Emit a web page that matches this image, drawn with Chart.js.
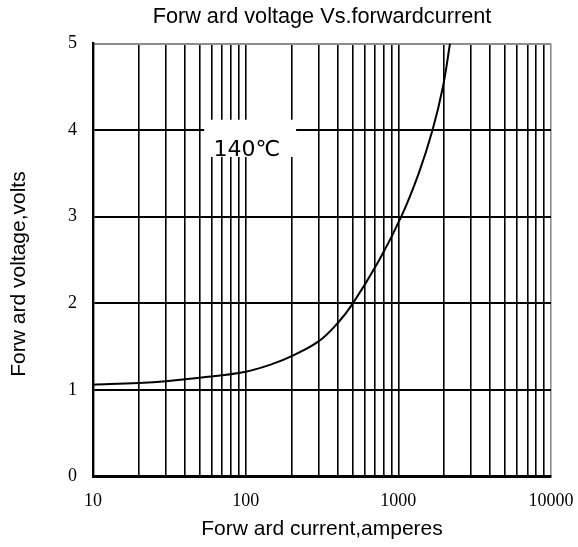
<!DOCTYPE html>
<html><head><meta charset="utf-8">
<script src="https://cdn.jsdelivr.net/npm/chart.js@4"></script>
<style>html,body{margin:0;padding:0;background:#fff}#wrap{width:578px;height:547px}</style>
</head><body><div id="wrap"><canvas id="c"></canvas></div>
<script>
const currentA = [10, 20, 30, 50, 100, 150, 200, 300, 400, 500, 750, 1045, 1360, 1675, 1960, 2180];
const voltageV = [1.06, 1.08, 1.10, 1.14, 1.21, 1.30, 1.39, 1.56, 1.77, 1.99, 2.50, 3.00, 3.50, 4.00, 4.50, 5.00];
const xTickLabels = [10, 100, 1000, 10000];
const yTickLabels = [0, 1, 2, 3, 4, 5];
const chartTitle = 'Forw ard voltage Vs.forwardcurrent';
const xTitle = 'Forw ard current,amperes';
const yTitle = 'Forw ard voltage,volts';
const noteText = '140℃';
const noteBox = {x0: 53.5, x1: 214, y0: 3.69, y1: 4.12};
const noteAt = {x: 61.5, y: 3.70};

const textPlugin = {
  id: 'texts',
  afterDraw(chart) {
    const {ctx, chartArea, scales: {x, y}} = chart;
    const l = x.getPixelForValue(noteBox.x0), r = x.getPixelForValue(noteBox.x1);
    const t = y.getPixelForValue(noteBox.y1), b = y.getPixelForValue(noteBox.y0);
    ctx.save();
    ctx.fillStyle = '#fff';
    ctx.fillRect(l, t, r - l, b - t);
    ctx.fillStyle = '#000';
    ctx.font = '22px "DejaVu Sans"';
    ctx.textAlign = 'left';
    ctx.textBaseline = 'alphabetic';
    ctx.fillText(noteText, x.getPixelForValue(noteAt.x), y.getPixelForValue(noteAt.y));
    // chart title, centred over the plot area
    ctx.textAlign = 'center';
    ctx.font = '21.7px "Liberation Sans"';
    ctx.fillText(chartTitle, (chartArea.left + chartArea.right) / 2, 23.3);
    // y axis title
    ctx.translate(19, 274);
    ctx.rotate(-Math.PI / 2);
    ctx.textBaseline = 'middle';
    ctx.font = '21px "Liberation Sans"';
    ctx.fillText(yTitle, 0, 0);
    ctx.restore();
  }
};

new Chart(document.getElementById('c'), {
  type: 'line',
  data: {
    datasets: [{
      data: currentA.map((v, i) => ({x: v, y: voltageV[i]})),
      borderColor: '#000',
      borderWidth: 2,
      pointRadius: 0,
      fill: false,
      tension: 0.4
    }]
  },
  options: {
    responsive: true,
    maintainAspectRatio: false,
    animation: false,
    layout: {padding: {left: 0, right: 27, top: 43.5, bottom: 0}},
    plugins: {
      legend: {display: false},
      tooltip: {enabled: false},
      title: {display: false}
    },
    scales: {
      x: {
        type: 'logarithmic', min: 10, max: 10000,
        afterBuildTicks: s => {
          const t = [];
          for (let d = 10; d < 10000; d *= 10) for (let m = 1; m < 10; m++) t.push({value: d * m});
          t.push({value: 10000});
          s.ticks = t;
        },
        afterFit: s => { s.height = 70.5; s.paddingLeft = 0; s.paddingRight = 0; },
        ticks: {
          autoSkip: false, maxRotation: 0, padding: 14, color: '#000',
          font: {family: 'Liberation Serif', size: 18},
          callback: v => xTickLabels.includes(v) ? String(v) : ''
        },
        grid: {
          drawTicks: false, lineWidth: 1.6,
          color: c => (c.tick && c.tick.value === 10000) ? '#8c8c8c' : '#000'
        },
        border: {display: true, color: '#000', width: 2.4},
        title: {
          display: true, text: xTitle, color: '#000',
          font: {family: 'Liberation Sans', size: 21},
          padding: {top: 0, bottom: 5.4}
        }
      },
      y: {
        min: 0, max: 5,
        afterBuildTicks: s => { s.ticks = yTickLabels.map(v => ({value: v})); },
        afterFit: s => { s.width = 93; s.paddingTop = 0; s.paddingBottom = 0; },
        ticks: {
          padding: 16, color: '#000',
          font: {family: 'Liberation Serif', size: 18}
        },
        grid: {
          drawTicks: false, lineWidth: 2,
          color: c => (c.tick && c.tick.value === 5) ? '#8c8c8c' : '#000'
        },
        border: {display: true, color: '#000', width: 2.4}
      }
    }
  },
  plugins: [textPlugin]
});
</script>
</body></html>
